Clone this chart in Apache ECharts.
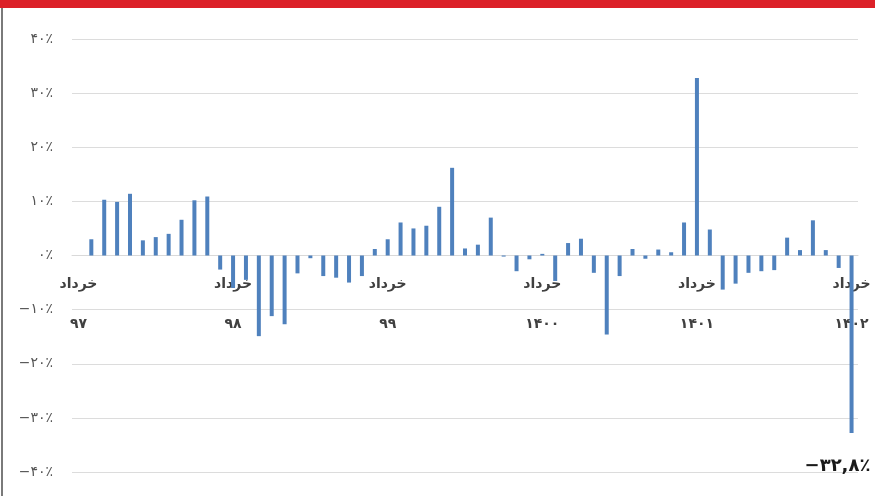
<!DOCTYPE html>
<html>
<head>
<meta charset="utf-8">
<script src="https://cdn.jsdelivr.net/npm/echarts@6/dist/echarts.min.js"></script>
<style>
html,body{margin:0;padding:0;background:#fff;}
#c{width:875px;height:496px;}
</style>
</head>
<body>
<div id="c"></div>
<script>
// Persian months, starting from Khordad
var monthNames = ['خرداد','تیر','مرداد','شهریور','مهر','آبان','آذر','دی','بهمن','اسفند','فروردین','اردیبهشت'];
var yearLabels = ['۹۷','۹۸','۹۹','۱۴۰۰','۱۴۰۱','۱۴۰۲'];
// monthly change (%) from Khordad 97 to Khordad 1402
var values = [
  null, 3.0, 10.3, 9.9, 11.4, 2.8, 3.4, 4.0, 6.6, 10.2, 10.9, -2.6,
  -6.0, -4.5, -14.9, -11.2, -12.7, -3.3, -0.5, -3.8, -4.1, -5.0, -3.8, 1.2,
  3.0, 6.1, 5.0, 5.5, 9.0, 16.2, 1.3, 2.0, 7.0, -0.2, -2.9, -0.7,
  0.3, -4.7, 2.3, 3.1, -3.2, -14.6, -3.8, 1.2, -0.6, 1.1, 0.6, 6.1,
  32.8, 4.8, -6.3, -5.2, -3.2, -2.9, -2.7, 3.3, 1.0, 6.5, 1.0, -2.3,
  -32.8
];
var yTicks = [-40, -30, -20, -10, 0, 10, 20, 30, 40];
var lastLabel = '−۳۲,۸٪';

var categories = [];
for (var i = 0; i < values.length; i++) {
  var y = Math.floor(i / 12);
  var m = i % 12;
  var yi = (m >= 10) ? y + 1 : y;
  categories.push(monthNames[m] + '\n' + yearLabels[Math.min(yi, yearLabels.length - 1)]);
}

function fa(n) {
  var d = '۰۱۲۳۴۵۶۷۸۹';
  return String(n).replace(/[0-9]/g, function (c) { return d[+c]; });
}

var gridTop = 39, gridBottom = 24, H = 496;
var gridH = H - gridTop - gridBottom;

var chart = echarts.init(document.getElementById('c'), null, {renderer: 'canvas'});
chart.setOption({
  animation: false,
  backgroundColor: '#ffffff',
  grid: {left: 72, right: 17, top: gridTop, bottom: gridBottom, containLabel: false, outerBoundsMode: 'none'},
  xAxis: {
    type: 'category',
    data: categories,
    boundaryGap: true,
    position: 'bottom',
    offset: -gridH / 2,
    axisLine: {show: true, onZero: false, lineStyle: {color: '#d9d9d9', width: 1}},
    axisTick: {show: false},
    axisLabel: {
      interval: 11,
      margin: 9,
      lineHeight: 40,
      color: '#404040',
      fontFamily: 'DejaVu Sans',
      fontWeight: 'bold',
      fontSize: 14
    },
    splitLine: {show: false}
  },
  yAxis: {
    type: 'value',
    min: -40, max: 40, interval: 10,
    axisLine: {show: false},
    axisTick: {show: false},
    axisLabel: {
      margin: 19,
      color: '#555555',
      fontFamily: 'DejaVu Sans',
      fontSize: 14,
      formatter: function (v) { return (v < 0 ? '−' : '') + fa(Math.abs(v)) + '٪'; }
    },
    splitLine: {show: true, lineStyle: {color: '#dcdcdc', width: 1}}
  },
  series: [{
    type: 'bar',
    data: values.map(function (v, i) {
      if (i === values.length - 1) {
        return {value: v, label: {show: true, position: 'bottom', distance: 24, align: 'left', offset: [-47, 0],
          formatter: lastLabel, color: '#1a1a1a', fontFamily: 'DejaVu Sans', fontWeight: 'bold', fontSize: 18}};
      }
      return v;
    }),
    barWidth: 4,
    itemStyle: {color: '#4F81BD'},
    z: 3
  }],
  graphic: [
    {type: 'rect', left: 0, top: 0, shape: {width: 875, height: 8}, style: {fill: '#DC2128'}, z: 10},
    {type: 'rect', left: 1, top: 8, shape: {width: 2, height: 488}, style: {fill: '#7a7a7a'}, z: 10}
  ]
});
</script>
</body>
</html>
